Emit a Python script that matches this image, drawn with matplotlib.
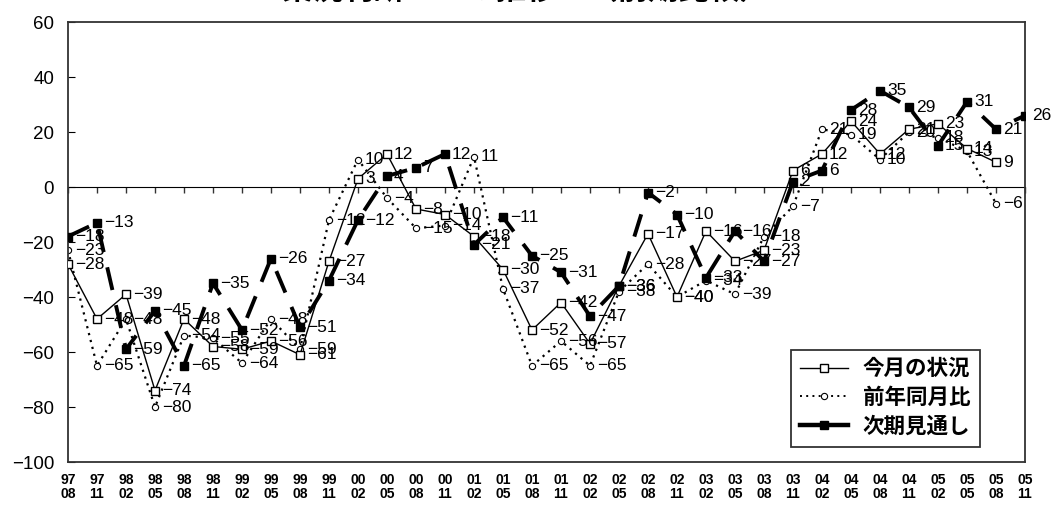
import numpy as np
import matplotlib
matplotlib.use("Agg")
import matplotlib.pyplot as plt
from matplotlib.lines import Line2D

plt.rcParams['font.family'] = ['Liberation Sans', 'Noto Sans CJK JP', 'DejaVu Sans']

# categories (yy/mm)
periods = ["97/08", "97/11", "98/02", "98/05", "98/08", "98/11", "99/02", "99/05",
           "99/08", "99/11", "00/02", "00/05", "00/08", "00/11", "01/02", "01/05",
           "01/08", "01/11", "02/02", "02/05", "02/08", "02/11", "03/02", "03/05",
           "03/08", "03/11", "04/02", "04/05", "04/08", "04/11", "05/02", "05/05",
           "05/08", "05/11"]

# 今月の状況
current = [-28, -48, -39, -74, -48, -58, -59, -56, -61, -27, 3, 12, -8, -10, -18, -30,
           -52, -42, -57, -36, -17, -40, -16, -27, -23, 6, 12, 24, 12, 21, 23, 14,
           9, np.nan]
# 前年同月比
yoy = [-23, -65, -48, -80, -54, -55, -64, -48, -59, -12, 10, -4, -15, -14, 11, -37,
       -65, -56, -65, -38, -28, -40, -34, -39, -18, -7, 21, 19, 10, 20, 18, 13,
       -6, np.nan]
# 次期見通し
outlook = [-18, -13, -59, -45, -65, -35, -52, -26, -51, -34, -12, 4, 7, 12, -21, -11,
           -25, -31, -47, -36, -2, -10, -33, -16, -27, 2, 6, 28, 35, 29, 15, 31,
           21, 26]

x = np.arange(len(periods))

fig = plt.figure(figsize=(10.53, 5.14), dpi=100)
ax = fig.add_axes([68 / 1053, 52 / 514, 957 / 1053, 440 / 514])

ax.plot(x, current, color='black', lw=1.0, marker='s', ms=6,
        mfc='white', mec='black', mew=1.0, zorder=3)
ax.plot(x, yoy, color='black', lw=1.6, dashes=(1, 2.2), marker='o', ms=4.5,
        mfc='white', mec='black', mew=0.8, zorder=2)
l3, = ax.plot(x, outlook, color='black', lw=2.8, dashes=(6, 4), marker='s', ms=5.5,
              mfc='black', mec='black', zorder=4)
l3.set_dash_capstyle('butt')

# data labels
for series in (current, yoy, outlook):
    for xi, v in zip(x, series):
        if np.isnan(v):
            continue
        ax.annotate(str(int(v)).replace('-', '\u2212'), (xi, v), xytext=(5, 0),
                    textcoords='offset points', ha='left', va='center',
                    fontsize=12.5, color='black', zorder=5)

ax.set_xlim(0, len(periods) - 1)
ax.set_ylim(-100, 60)
ax.set_yticks(np.arange(-100, 61, 20))
ax.set_yticklabels([str(v).replace('-', '\u2212') for v in range(-100, 61, 20)])
ax.tick_params(axis='y', direction='in', length=5, labelsize=13.5, pad=10)

ax.set_xticks(x)
ax.set_xticklabels([p.replace('/', '\n') for p in periods], fontsize=10,
                   fontweight='bold', linespacing=1.0)
ax.tick_params(axis='x', length=0, pad=8)

for s in ax.spines.values():
    s.set_linewidth(1.3)
    s.set_color('#333333')

# category axis crossing at zero
zero_ax = ax.secondary_xaxis(100 / 160)
zero_ax.set_xticks(x)
zero_ax.set_xticklabels([])
zero_ax.tick_params(axis='x', direction='in', length=4, width=1, color='#333333')
zero_ax.spines['bottom'].set_linewidth(1.6)
zero_ax.spines['bottom'].set_color('#333333')

h1 = Line2D([], [], color='black', lw=1.0, marker='s', ms=6, mfc='white', mec='black')
h2 = Line2D([], [], color='black', lw=1.4, dashes=(1, 2.2), marker='o', ms=4.5,
            mfc='white', mec='black', mew=0.8)
h3 = Line2D([], [], color='black', lw=3.2, marker='s', ms=6, mfc='black', mec='black')
leg = ax.legend(handles=[h1, h2, h3], labels=['今月の状況', '前年同月比', '次期見通し'],
                loc='lower right', bbox_to_anchor=(0.953, 0.034),
                prop={'size': 15.5, 'weight': 'bold'},
                frameon=True, fancybox=False, edgecolor='black', handlelength=2.2,
                borderpad=0.45, labelspacing=0.35, handletextpad=0.7, borderaxespad=0)
leg.get_frame().set_linewidth(1.3)

# title (cut off at the top edge in the reference)
fig.text(0.50, 1.018, '業況判断ＤＩの推移　（前期比較）', ha='center', va='center',
         fontsize=22, fontweight='bold')

fig.savefig('out.png', dpi=100)
